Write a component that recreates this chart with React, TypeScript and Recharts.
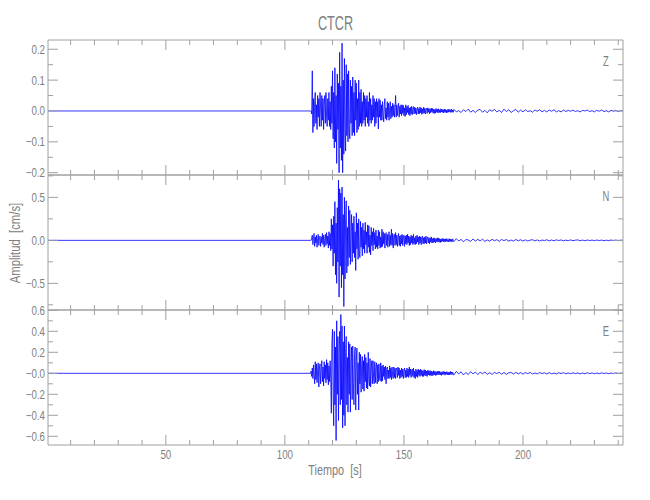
import React from "react";
import { LineChart, Line, XAxis, YAxis } from "recharts";

// --- sampling of the traces (seconds) ---
const PRE_TIMES = [0.5, 110.75];
const FAST_START = 111; // strong motion and coda, dense sampling
const FAST_STEP = 0.25;
const TAIL_START = 171;
const TAIL_STEP = 1;

// Z component, cm/s
const zFast = [
  0, -0.01, 0.13, -0.07, 0.04, -0.05, 0.03, 0.06,
  -0.04, 0.02, -0.06, 0.05, -0.02, 0.04, -0.05, 0.06,
  0.01, -0.05, 0.05, -0.03, 0.04, -0.06, 0.02, 0.05,
  -0.04, 0.06, -0.02, -0.05, 0.04, -0.03, 0.06, -0.05,
  0.03, -0.06, 0.08, -0.04, 0.13, -0.09, 0.06, -0.12,
  0.14, -0.1, 0.05, -0.17, 0.12, -0.06, 0.09, -0.2,
  0.19, -0.12, 0.08, -0.16, 0.22, -0.2, 0.1, -0.14,
  0.17, -0.06, -0.13, 0.15, -0.08, 0.12, -0.1, 0.13,
  -0.05, -0.09, 0.1, -0.04, 0.08, -0.08, 0.11, -0.07,
  0.06, -0.08, 0.1, -0.03, 0.09, -0.07, 0.04, -0.06,
  0.1, -0.05, 0.06, -0.04, 0.07, -0.05, 0.03, -0.04,
  0.06, -0.03, 0.05, -0.05, 0.04, -0.02, 0.05, -0.04,
  0.03, -0.05, 0.06, -0.03, 0.04, -0.04, 0.02, -0.03,
  0.05, -0.02, 0.04, -0.05, 0.03, -0.04, 0.04, -0.02,
  0.03, -0.058, 0.04, -0.02, 0.035, -0.03, 0.02, -0.03,
  0.03, -0.01, -0.035, 0.02, 0.04, -0.025, 0.01, -0.03,
  0.03, -0.02, 0.025, -0.03, 0.01, 0.03, -0.025, 0.015,
  -0.02, 0.025, -0.015, 0.02, -0.02, 0.01, 0.05, -0.02,
  0.02, -0.015, 0.01, 0.025, -0.02, 0.015, -0.01, 0.02,
  -0.015, 0.02, -0.008, 0.018, -0.015, 0.01, -0.018, 0.02,
  -0.012, 0.015, -0.005, 0.018, -0.012, 0.01, -0.015, 0.012,
  -0.01, 0.015, -0.012, 0.006, 0.014, -0.01, 0.012, -0.008,
  0.01, -0.012, 0.004, 0.012, -0.01, 0.008, -0.009, 0.013,
  -0.006, 0.01, -0.011, 0.007, -0.008, 0.012, -0.007, 0.009,
  -0.01, 0.006, 0.009, -0.008, 0.01, -0.004, 0.008, -0.009,
  0.007, -0.006, 0.009, -0.003, 0.008, -0.007, 0.006, -0.008,
  0.005, -0.007, 0.008, -0.004, 0.006, -0.006, 0.007, -0.005,
  0.004, -0.006, 0.007, -0.003, 0.006, -0.005, 0.004, -0.006,
  0.006, -0.004, 0.005, -0.006, 0.003, -0.005, 0.006, -0.004,
  0.005, -0.003, 0.004, -0.005, 0.006, -0.004, 0.003, -0.004,
];
const zTail = [
  0.005, -0.003, 0.001, -0.005, 0.004, -0.002, 0.006, -0.004, 0.002, -0.005,
  0.003, 0.005, -0.004, 0.002, -0.006, 0.004, -0.001, 0.005, -0.003, 0.002,
  -0.005, 0.006, -0.002, 0.004, -0.005, 0.001, 0.005, -0.004, 0.003, -0.003,
  0.004, -0.002, 0.001, -0.004, 0.003, -0.001, 0.004, -0.003, 0.002, -0.003,
  0.003, -0.001, 0.004, -0.003, 0.001, -0.003, 0.003, -0.002, 0.002, -0.001,
  0.003, -0.002, 0.001, -0.003, 0.002, 0, 0.003, -0.002, 0.001, -0.003,
  0.002, -0.001, 0.003, -0.002, 0.001, -0.003, 0.002, -0.001, 0.002, -0.002, 0.001, 0,
];

// N component
const nFast = [
  0, 0.03, 0.06, -0.05, 0.02, 0.08, -0.07, 0.04,
  -0.03, 0.06, -0.08, 0.02, 0.07, -0.06, 0.03, 0.05,
  -0.07, 0.04, -0.03, 0.08, -0.05, 0.06, -0.08, 0.02,
  0.07, -0.06, 0.09, -0.04, 0.05, -0.09, 0.1, -0.06,
  0.08, -0.12, 0.25, -0.1, 0.18, -0.3, 0.28, -0.15,
  0.45, -0.4, 0.2, -0.5, 0.38, -0.25, 0.7, -0.66,
  0.6, -0.3, 0.55, -0.55, 0.62, -0.4, 0.3, -0.77,
  0.5, -0.45, 0.25, 0.46, -0.38, 0.15, -0.3, 0.4,
  -0.2, 0.35, -0.28, 0.1, 0.3, -0.25, 0.2, -0.15,
  0.28, -0.2, 0.1, -0.35, 0.32, -0.1, 0.2, -0.22,
  0.25, -0.15, -0.2, 0.22, -0.08, 0.15, -0.18, 0.2,
  -0.1, 0.12, -0.15, 0.21, -0.05, 0.1, -0.15, 0.18,
  -0.08, 0.17, -0.14, 0.06, -0.17, 0.15, -0.06, 0.1,
  -0.12, 0.14, -0.05, 0.09, -0.1, 0.12, -0.08, 0.05,
  -0.1, 0.12, -0.06, 0.1, -0.09, 0.04, -0.08, 0.13,
  -0.07, 0.1, -0.04, 0.08, -0.09, 0.05, 0.09, -0.06,
  0.07, -0.08, 0.04, 0.1, -0.07, 0.06, -0.05, 0.13,
  -0.06, 0.08, -0.09, 0.05, 0.07, -0.06, 0.09, -0.05,
  0.06, -0.07, 0.03, 0.08, -0.06, 0.05, -0.07, 0.06,
  -0.04, 0.07, -0.06, 0.03, 0.06, -0.07, 0.05, -0.04,
  0.06, -0.05, 0.07, -0.03, 0.05, -0.06, 0.04, -0.05,
  0.06, -0.03, 0.05, -0.05, 0.07, -0.04, 0.03, -0.05,
  0.05, -0.04, 0.06, -0.02, 0.04, -0.05, 0.05, -0.03,
  0.04, -0.05, 0.03, 0.05, -0.04, 0.03, -0.04, 0.04,
  -0.03, 0.05, -0.04, 0.02, 0.04, -0.03, 0.03, -0.04,
  0.03, -0.02, 0.04, -0.03, 0.02, -0.03, 0.03, -0.02,
  0.025, -0.03, 0.02, -0.015, 0.03, -0.02, 0.025, -0.02,
  0.02, -0.025, 0.015, -0.02, 0.022, -0.01, 0.02, -0.018,
  0.015, -0.02, 0.018, -0.012, 0.02, -0.015, 0.01, -0.018,
  0.02, -0.012, 0.015, -0.018, 0.01, -0.015, 0.018, -0.012,
];
const nTail = [
  -0.015, 0.02, -0.008, 0.012, -0.018, 0.01, 0.004, -0.012, 0.016, -0.01,
  0.012, -0.006, 0.014, -0.012, 0.005, -0.01, 0.012, -0.004, 0.008, -0.011,
  0.01, -0.003, 0.009, -0.008, 0.004, -0.009, 0.01, -0.005, 0.007, -0.008,
  0.006, -0.008, 0.003, 0.007, -0.006, 0.005, -0.008, 0.004, -0.003, 0.007,
  -0.006, 0.004, -0.005, 0.006, -0.002, 0.005, -0.006, 0.003, -0.004, 0.005,
  -0.004, 0.002, 0.005, -0.004, 0.003, -0.005, 0.004, -0.002, 0.003, -0.004,
  0.004, -0.002, 0.003, -0.004, 0.002, -0.003, 0.004, -0.002, 0.003, -0.003, 0.002, 0,
];

// E component
const eFast = [
  0.02, -0.03, 0.05, -0.05, 0.08, -0.02, -0.1, 0.11,
  -0.06, 0.09, -0.09, 0.03, 0.1, -0.13, 0.05, 0.09,
  -0.1, 0.04, 0.12, -0.08, 0.06, -0.12, 0.11, -0.05,
  0.08, -0.09, 0.13, -0.06, 0.1, -0.11, 0.07, -0.08,
  0.12, -0.05, -0.38, 0.3, 0.42, -0.2, -0.5, 0.4,
  -0.3, 0.25, -0.64, 0.5, -0.2, 0.35, -0.45, 0.2,
  0.4, -0.3, 0.56, -0.25, 0.45, -0.52, 0.3, -0.4,
  0.45, -0.5, 0.2, 0.35, -0.3, 0.15, -0.37, 0.3,
  -0.2, 0.28, -0.37, 0.1, 0.25, -0.25, 0.26, -0.1,
  -0.3, 0.18, 0.25, -0.35, 0.12, 0.24, -0.2, 0.1,
  -0.35, 0.2, -0.1, 0.18, -0.18, 0.08, 0.16, -0.15,
  0.12, -0.17, 0.18, -0.08, 0.15, -0.14, 0.1, -0.15,
  0.2, -0.06, -0.12, 0.14, -0.13, 0.05, 0.12, -0.1,
  0.12, -0.05, -0.1, 0.11, -0.09, 0.06, 0.1, -0.1,
  0.08, -0.08, 0.09, -0.04, -0.07, 0.1, -0.08, 0.07,
  -0.07, 0.08, -0.03, 0.06, -0.06, 0.07, -0.1, 0.04,
  0.06, -0.05, 0.03, -0.05, 0.07, -0.04, 0.05, -0.06,
  0.06, -0.03, -0.05, 0.06, -0.04, 0.05, -0.05, 0.04,
  0.05, -0.04, 0.06, -0.02, 0.05, -0.05, 0.03, -0.04,
  0.05, -0.03, 0.04, -0.05, 0.02, 0.05, -0.04, 0.03,
  -0.04, 0.05, -0.03, 0.04, -0.04, 0.06, -0.02, 0.04,
  -0.04, 0.03, 0.04, -0.03, 0.05, -0.04, 0.02, -0.05,
  0.04, -0.03, 0.03, -0.04, 0.04, -0.02, 0.03, -0.03,
  0.04, -0.02, 0.03, -0.03, 0.025, -0.03, 0.035, -0.02,
  0.03, -0.025, 0.02, -0.03, 0.03, -0.015, 0.025, -0.02,
  0.025, -0.02, 0.02, -0.025, 0.015, -0.02, 0.025, -0.015,
  0.02, -0.02, 0.015, -0.018, 0.02, -0.012, 0.018, -0.015,
  0.02, -0.015, 0.01, -0.02, 0.015, -0.012, 0.018, -0.01,
  0.015, -0.018, 0.012, -0.01, 0.016, -0.014, 0.01, -0.015,
  0.012, -0.015, 0.018, -0.01, 0.013, -0.012, 0.01, -0.014,
];
const eTail = [
  -0.015, 0.018, -0.006, 0.014, -0.016, 0.008, -0.012, 0.015, -0.005, 0.012,
  -0.012, 0.01, -0.004, 0.012, -0.01, 0.006, -0.011, 0.009, -0.003, 0.01,
  -0.009, 0.008, -0.01, 0.004, 0.008, -0.007, 0.009, -0.005, 0.007, -0.008,
  0.007, -0.003, 0.008, -0.007, 0.004, -0.006, 0.007, -0.002, 0.005, -0.006,
  0.006, -0.004, 0.003, -0.006, 0.005, -0.002, 0.006, -0.005, 0.003, -0.004,
  0.005, -0.003, 0.004, -0.005, 0.002, -0.004, 0.005, -0.003, 0.004, -0.004,
  0.003, -0.004, 0.004, -0.002, 0.003, -0.004, 0.003, -0.003, 0.004, -0.002, 0.002, 0,
];

// axes
const xTicks = [10, 20, 30, 40, 50, 60, 70, 80, 90, 100, 110, 120, 130, 140, 150, 160, 170, 180, 190, 200, 210, 220, 230, 240];
const xMajor = [50, 100, 150, 200];

const zTicks = [-0.2, -0.15, -0.1, -0.05, 0, 0.05, 0.1, 0.15, 0.2];
const zMajor = [-0.2, -0.1, 0, 0.1, 0.2];
const zLabels = ["\u22120.2", "\u22120.1", "0.0", "0.1", "0.2"];

const nTicks = [-0.75, -0.5, -0.25, 0, 0.25, 0.5, 0.75];
const nMajor = [-0.5, 0, 0.5];
const nLabels = ["\u22120.5", "0.0", "0.5"];

const eTicks = [-0.6, -0.5, -0.4, -0.3, -0.2, -0.1, 0, 0.1, 0.2, 0.3, 0.4, 0.5, 0.6];
const eMajor = [-0.6, -0.4, -0.2, 0, 0.2, 0.4, 0.6];
const eLabels = ["\u22120.6", "\u22120.4", "\u22120.2", "\u22120.0", "0.2", "0.4", "0.6"];

const FRAME = "#a0a0a0";
const TEXT = "#808080";
const FONT = "'Liberation Sans', Arial, sans-serif";

function buildSeries(fast: number[], tail: number[]) {
  const pts = PRE_TIMES.map((t) => ({ t, v: 0 }));
  fast.forEach((v, i) => pts.push({ t: FAST_START + i * FAST_STEP, v }));
  tail.forEach((v, i) => pts.push({ t: TAIL_START + i * TAIL_STEP, v }));
  return pts;
}

// narrow, thin lettering like the vector font of the original
function NText({ x, y, size, sx = 0.78, anchor = "middle", rotate = 0, children }: any) {
  return (
    <text transform={`translate(${x},${y}) rotate(${rotate}) scale(${sx},1)`} textAnchor={anchor}
      fill={TEXT} fontSize={size} fontFamily={FONT}>
      {children}
    </text>
  );
}

function XTick(props: any) {
  const { x, y, payload, side, showLabels } = props;
  const major = xMajor.indexOf(payload.value) >= 0;
  const len = major ? 10 : 5;
  const dir = side === "bottom" ? -1 : 1;
  return (
    <g>
      <line x1={x} x2={x} y1={y} y2={y + dir * len} stroke={FRAME} strokeWidth={1} />
      {showLabels && major && side === "bottom" && (
        <NText x={x} y={y + 14} size={12.5}>{payload.value}</NText>
      )}
    </g>
  );
}

function YTick(props: any) {
  const { x, y, payload, side, major, labels } = props;
  const idx = major.indexOf(payload.value);
  const len = idx >= 0 ? 10 : 5;
  const dir = side === "left" ? 1 : -1;
  return (
    <g>
      <line x1={x} x2={x + dir * len} y1={y} y2={y} stroke={FRAME} strokeWidth={1} />
      {side === "left" && idx >= 0 && (
        <NText x={x - 3} y={y + 4.5} size={12.5} anchor="end">{labels[idx]}</NText>
      )}
    </g>
  );
}

type PanelProps = {
  data: { t: number; v: number }[];
  top: number;
  bottom: number;
  domain: [number, number];
  ticks: number[];
  major: number[];
  labels: string[];
  showX: boolean;
};

function Panel({ data, top, bottom, domain, ticks, major, labels, showX }: PanelProps) {
  return (
    <div style={{ position: "absolute", left: 0, top: 0 }}>
      <LineChart width={650} height={500} data={data} margin={{ top, bottom: 500 - bottom, left: 48, right: 27 }}>
        <XAxis xAxisId="b" dataKey="t" type="number" domain={[0.5, 242]} allowDataOverflow orientation="bottom" mirror
          ticks={xTicks} interval={0} tickSize={0} tickMargin={0} tickLine={false} stroke={FRAME}
          tick={<XTick side="bottom" showLabels={showX} />} />
        <XAxis xAxisId="t" dataKey="t" type="number" domain={[0.5, 242]} allowDataOverflow orientation="top" mirror
          ticks={xTicks} interval={0} tickSize={0} tickMargin={0} tickLine={false} stroke={FRAME}
          tick={<XTick side="top" showLabels={false} />} />
        <YAxis yAxisId="l" type="number" domain={domain} allowDataOverflow orientation="left" mirror
          ticks={ticks} interval={0} tickSize={0} tickMargin={0} tickLine={false} stroke={FRAME}
          tick={<YTick side="left" major={major} labels={labels} />} />
        <YAxis yAxisId="r" type="number" domain={domain} allowDataOverflow orientation="right" mirror
          ticks={ticks} interval={0} tickSize={0} tickMargin={0} tickLine={false} stroke={FRAME}
          tick={<YTick side="right" major={major} labels={labels} />} />
        <Line xAxisId="b" yAxisId="l" dataKey="v" type="linear" stroke="#0000ff" strokeWidth={0.8}
          strokeLinejoin="bevel" dot={false} activeDot={false} isAnimationActive={false} />
      </LineChart>
    </div>
  );
}

const zData = buildSeries(zFast, zTail);
const nData = buildSeries(nFast, nTail);
const eData = buildSeries(eFast, eTail);

export default function App() {
  return (
    <div style={{ position: "absolute", left: 0, top: 0, width: 650, height: 500, background: "#fff" }}>
      <Panel data={zData} top={40} bottom={175} domain={[-0.2075, 0.23]} ticks={zTicks} major={zMajor} labels={zLabels} showX={false} />
      <Panel data={nData} top={175} bottom={310} domain={[-0.81, 0.76]} ticks={nTicks} major={nMajor} labels={nLabels} showX={false} />
      <Panel data={eData} top={310} bottom={445} domain={[-0.683, 0.603]} ticks={eTicks} major={eMajor} labels={eLabels} showX={true} />
      <svg width={650} height={500} style={{ position: "absolute", left: 0, top: 0, pointerEvents: "none" }}>
        <NText x={335.5} y={30} size={19.5} sx={0.65}>CTCR</NText>
        <NText x={335} y={475} size={14.5} sx={0.75}>{"Tiempo\u00a0\u00a0[s]"}</NText>
        <NText x={20} y={243} size={14.5} sx={0.78} rotate={-90}>{"Amplitud\u00a0\u00a0[cm/s]"}</NText>
        <NText x={606} y={66} size={14.5} sx={0.65}>Z</NText>
        <NText x={606} y={201} size={14.5} sx={0.65}>N</NText>
        <NText x={606} y={336} size={14.5} sx={0.65}>E</NText>
      </svg>
    </div>
  );
}
